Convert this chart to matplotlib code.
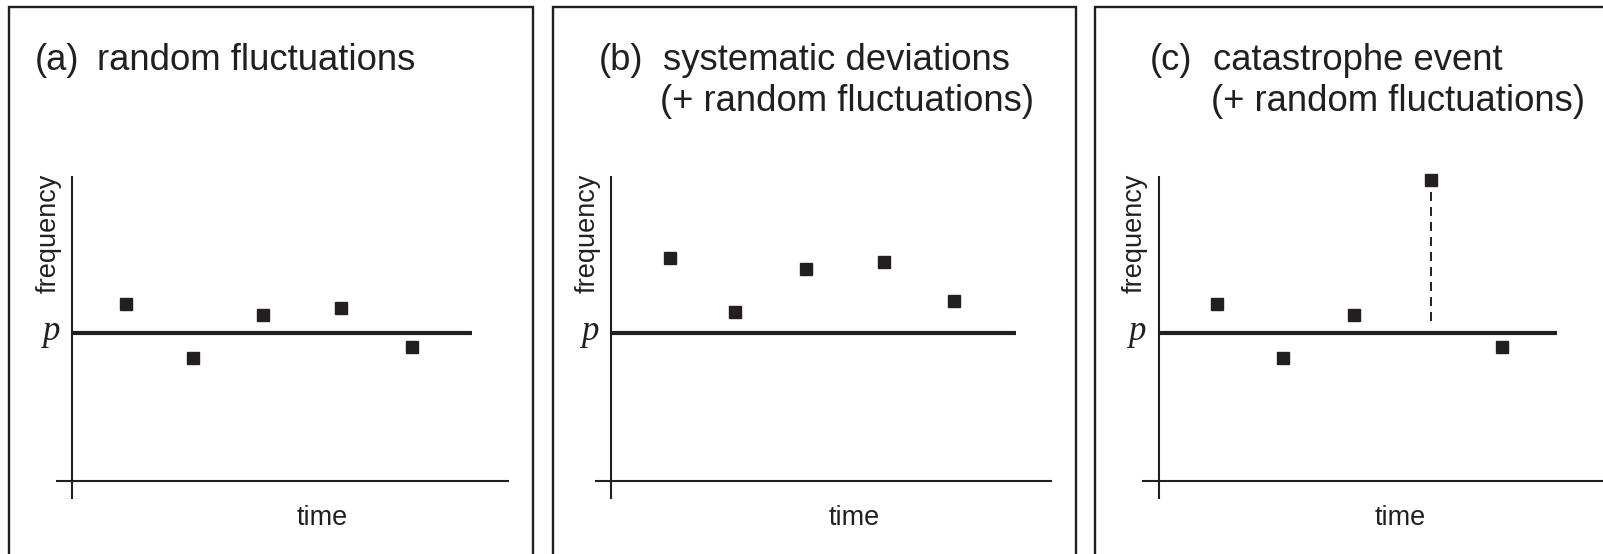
import matplotlib
matplotlib.use("Agg")
import matplotlib.pyplot as plt
from matplotlib.patches import Rectangle

plt.rcParams["font.family"] = ["Liberation Sans", "DejaVu Sans"]
plt.rcParams["lines.scale_dashes"] = False

# reference level and the points of each panel (time, frequency in axis units 0..10)
p_level = 4.85

time_a = [1.23, 2.76, 4.35, 6.13, 7.76]
freq_a = [5.79, 4.02, 5.44, 5.66, 4.38]

time_b = [1.34, 2.82, 4.45, 6.23, 7.82]
freq_b = [7.30, 5.53, 6.94, 7.17, 5.89]

time_c = [1.32, 2.82, 4.45, 6.21, 7.83]
freq_c = [5.79, 4.02, 5.44, 9.85, 4.38]
catastrophe_index = 3

panel_tags = ["(a)", "(b)", "(c)"]
panel_titles = [["random fluctuations"],
                ["systematic deviations", "(+ random fluctuations)"],
                ["catastrophe event", "(+ random fluctuations)"]]
x_label = "time"
y_label = "frequency"

W, H = 1603, 554
ink = "#231f20"

# layout in pixels: frame left/right, y-axis x, tag x, title x, p-line end, x-axis end, "time" x
layout = [
    dict(frame=(8.5, 532.5), axis_x=72.3, tag_x=35, title_x=[97], p_end=9.13, x_end=9.97, time_x=5.70),
    dict(frame=(552.5, 1075.5), axis_x=611.3, tag_x=599, title_x=[663, 660], p_end=9.24, x_end=10.06, time_x=5.55),
    dict(frame=(1094.5, 1640), axis_x=1159, tag_x=1150, title_x=[1213, 1211], p_end=9.08, x_end=11.0, time_x=5.50),
]
series = [(time_a, freq_a), (time_b, freq_b), (time_c, freq_c)]
title_baselines = [70, 111]

fig = plt.figure(figsize=(W / 100, H / 100), dpi=100)

ax_w, ax_h = 438, 305
ax_bottom = 480.5

for i, (lay, (t, f)) in enumerate(zip(layout, series)):
    # panel frame (open at the bottom, cut by the figure edge)
    x0, x1 = lay["frame"]
    fig.add_artist(Rectangle((x0 / W, -0.1), (x1 - x0) / W, 1.1 - 6.7 / H,
                             transform=fig.transFigure, fill=False,
                             lw=1.7, ec=ink, clip_on=False))

    # titles
    fig.text(lay["tag_x"] / W, 1 - title_baselines[0] / H, panel_tags[i], fontsize=26.3,
             color=ink, ha="left", va="baseline")
    for line, tx, ty in zip(panel_titles[i], lay["title_x"], title_baselines):
        fig.text(tx / W, 1 - ty / H, line, fontsize=26.3,
                 color=ink, ha="left", va="baseline")

    ax = fig.add_axes([lay["axis_x"] / W, 1 - ax_bottom / H, ax_w / W, ax_h / H])
    ax.set_xlim(0, 10)
    ax.set_ylim(0, 10)
    ax.set_axis_off()

    # axes drawn as crossing lines
    ax.plot([0, 0], [-0.6, 10], color=ink, lw=1.5, clip_on=False, solid_capstyle="butt")
    ax.plot([-0.38, lay["x_end"]], [0, 0], color=ink, lw=1.5, clip_on=False, solid_capstyle="butt")

    # reference frequency p
    ax.plot([0, lay["p_end"]], [p_level, p_level], color=ink, lw=3.0,
            clip_on=False, solid_capstyle="butt")

    ax.plot(t, f, "s", ms=8.6, color=ink, mec=ink, clip_on=False, zorder=3)

    if i == 2:
        k = catastrophe_index
        ax.plot([t[k], t[k]], [f[k] - 0.38, p_level + 0.17], color=ink, lw=1.4,
                linestyle=(0, (6.5, 4.3)), clip_on=False)

    ax.annotate("p", xy=(0, p_level), xytext=(-22, -7), textcoords="offset pixels",
                ha="center", va="baseline", fontsize=25, color=ink,
                family=["Liberation Serif", "DejaVu Serif"], style="italic")
    ax.annotate(y_label, xy=(0, 10), xytext=(-24, 2), textcoords="offset pixels",
                rotation=90, ha="center", va="top", fontsize=19.5, color=ink)
    ax.annotate(x_label, xy=(lay["time_x"], 0), xytext=(0, -44.5), textcoords="offset pixels",
                ha="center", va="baseline", fontsize=19.5, color=ink)

fig.savefig("out.png", dpi=100)
